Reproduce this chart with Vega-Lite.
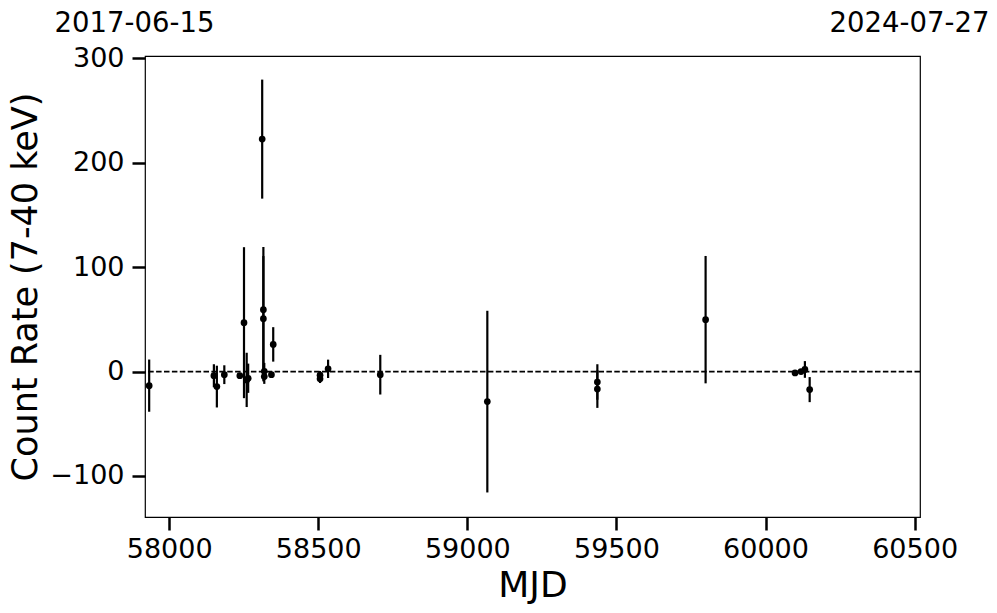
{
  "$schema": "https://vega.github.io/schema/vega-lite/v6.json",
  "autosize": {"type": "none"},
  "padding": {"left": 145, "top": 56, "right": 77, "bottom": 96},
  "width": 775,
  "height": 461,
  "background": "white",
  "config": {
    "view": {"stroke": "black", "strokeWidth": 1.2},
    "font": "DejaVu Sans",
    "rule": {"strokeWidth": 2.2},
    "axis": {
      "labelFont": "DejaVu Sans",
      "titleFont": "DejaVu Sans",
      "labelFontSize": 27,
      "titleFontSize": 36,
      "titleFontWeight": "normal",
      "labelColor": "black",
      "titleColor": "black",
      "tickColor": "black",
      "tickSize": 13,
      "tickWidth": 2.5,
      "grid": false,
      "domain": false,
      "labelFlush": false
    }
  },
  "data": {
    "values": [
      {"mjd": 57933, "rate": -13.5, "err": 25},
      {"mjd": 58150, "rate": -4, "err": 11},
      {"mjd": 58160, "rate": -14.4, "err": 20},
      {"mjd": 58185, "rate": -3, "err": 9},
      {"mjd": 58237, "rate": -4, "err": 2},
      {"mjd": 58251, "rate": 46.8, "err": 72.3},
      {"mjd": 58260, "rate": -8, "err": 26},
      {"mjd": 58265, "rate": -6.4, "err": 14},
      {"mjd": 58312, "rate": 222.6, "err": 57},
      {"mjd": 58316, "rate": 59.3, "err": 60},
      {"mjd": 58316, "rate": 50.6, "err": 60},
      {"mjd": 58319, "rate": 0.3, "err": 8},
      {"mjd": 58319, "rate": -4.8, "err": 7},
      {"mjd": 58343, "rate": -3, "err": 2},
      {"mjd": 58349, "rate": 26, "err": 16.5},
      {"mjd": 58506, "rate": -3.5, "err": 4},
      {"mjd": 58506, "rate": -7, "err": 4},
      {"mjd": 58533, "rate": 2.6, "err": 8.8},
      {"mjd": 58708, "rate": -3, "err": 19},
      {"mjd": 59067, "rate": -28.8, "err": 87},
      {"mjd": 59436, "rate": -10, "err": 17},
      {"mjd": 59436, "rate": -16.8, "err": 18},
      {"mjd": 59799, "rate": 49.7, "err": 61},
      {"mjd": 60099, "rate": -1.3, "err": 1},
      {"mjd": 60119, "rate": 0, "err": 1},
      {"mjd": 60132, "rate": 2, "err": 8},
      {"mjd": 60148, "rate": -17.3, "err": 12}
    ]
  },
  "layer": [
    {
      "mark": {"type": "errorbar", "ticks": false, "color": "black", "thickness": 2.2},
      "encoding": {
        "x": {
          "field": "mjd", "type": "quantitative",
          "scale": {"domain": [57919, 60518], "nice": false, "zero": false},
          "axis": {"title": "MJD", "values": [58000, 58500, 59000, 59500, 60000, 60500], "format": "d", "labelPadding": 6, "titlePadding": 6}
        },
        "y": {
          "field": "rate", "type": "quantitative", "title": "Count Rate (7-40 keV)",
          "scale": {"domain": [-139.3, 302.2], "nice": false, "zero": false},
          "axis": {"title": "Count Rate (7-40 keV)", "values": [-100, 0, 100, 200, 300], "labelPadding": 8, "titlePadding": 6, "titleFontSize": 35}
        },
        "yError": {"field": "err"},
        "size": {"value": 2.2}
      }
    },
    {
      "data": {"values": [{"zero": 0}]},
      "mark": {"type": "rule", "color": "black", "strokeWidth": 1.7, "strokeDash": [5.5, 2.4]},
      "encoding": {
        "y": {"field": "zero", "type": "quantitative", "title": "Count Rate (7-40 keV)"}
      }
    },
    {
      "mark": {"type": "point", "filled": true, "color": "black", "opacity": 1, "size": 45},
      "encoding": {
        "x": {"field": "mjd", "type": "quantitative", "axis": null},
        "y": {"field": "rate", "type": "quantitative", "title": "Count Rate (7-40 keV)"}
      }
    },
    {
      "data": {"values": [{"mjd": 57919, "label": "2017-06-15"}, {"mjd": 60518, "label": "2024-07-27"}]},
      "mark": {"type": "point", "opacity": 0},
      "encoding": {
        "x": {
          "field": "mjd", "type": "quantitative",
          "axis": {
            "orient": "top", "title": null, "values": [57919, 60518],
            "labelExpr": "datum.value < 59000 ? '2017-06-15' : '2024-07-27'",
            "ticks": false, "labelFontSize": 27.5, "labelPadding": 19, "labelOffset": -11, "labelFlush": false
          }
        },
        "y": {"datum": 0, "type": "quantitative", "title": "Count Rate (7-40 keV)"}
      }
    }
  ],
  "resolve": {"axis": {"x": "independent"}}
}
